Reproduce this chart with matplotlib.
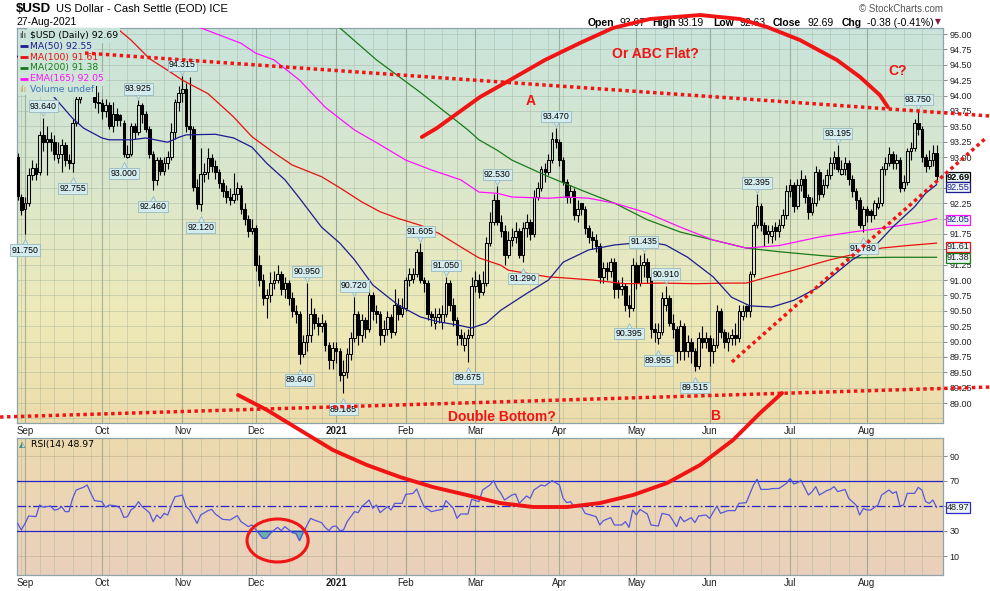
import numpy as np
import pandas as pd
import matplotlib
matplotlib.use("Agg")
import matplotlib.pyplot as plt
from matplotlib.collections import LineCollection
from matplotlib.patches import Rectangle, Ellipse
from matplotlib.colors import LinearSegmentedColormap
import matplotlib.transforms as mtransforms

plt.rcParams['font.family'] = ['Liberation Sans', 'DejaVu Sans']

# ---------------- data ----------------
holidays = ['2020-09-07', '2020-11-26', '2020-12-25', '2021-01-01', '2021-01-18',
            '2021-02-15', '2021-04-02', '2021-05-31', '2021-07-05']
start_date, end_date = '2020-08-27', '2021-08-27'

opens = [
    92.95, 93.00, 92.35, 92.15, 92.25, 92.70, 92.82, 92.75, 93.35, 93.25,
    93.30, 93.25, 92.98, 93.05, 93.20, 92.95, 92.90, 93.55, 93.95, 94.35,
    94.40, 94.60, 94.20, 93.90, 93.88, 93.75, 93.85, 93.50, 93.70, 93.68,
    93.55, 93.00, 93.05, 93.50, 93.40, 93.85, 93.70, 93.45, 93.05, 92.62,
    92.95, 92.78, 92.90, 93.00, 93.40, 93.90, 94.04, 94.10, 93.50, 93.45,
    92.52, 92.23, 92.73, 92.75, 92.98, 92.85, 92.75, 92.58, 92.45, 92.35,
    92.30, 92.40, 92.50, 92.15, 92.00, 91.80, 91.85, 91.25, 91.00, 90.70,
    90.75, 90.95, 91.00, 91.10, 90.85, 90.95, 90.70, 90.50, 90.45, 89.80,
    90.00, 90.10, 90.45, 90.30, 90.25, 90.30, 89.95, 89.70, 89.90, 89.85,
    89.45, 89.50, 89.80, 90.05, 90.45, 90.10, 90.35, 90.20, 90.75, 90.50,
    90.45, 90.10, 90.20, 90.40, 90.15, 90.60, 90.45, 90.55, 91.00, 91.02,
    91.10, 91.45, 91.00, 90.95, 90.45, 90.30, 90.40, 90.32, 90.45, 90.95,
    90.60, 90.35, 90.10, 89.95, 90.05, 90.10, 90.90, 91.00, 90.80, 90.95,
    91.60, 91.95, 92.30, 91.95, 91.80, 91.40, 91.65, 91.70, 91.80, 91.40,
    91.85, 91.95, 91.75, 92.35, 92.50, 92.80, 92.75, 92.95, 93.30, 93.25,
    92.95, 92.60, 92.35, 92.45, 92.05, 92.25, 92.15, 91.85, 91.70, 91.65,
    91.55, 91.05, 91.20, 91.15, 91.30, 90.95, 90.85, 90.90, 90.60, 90.55,
    91.25, 90.95, 91.25, 91.30, 91.05, 90.20, 90.05, 90.15, 90.60, 90.70,
    90.30, 90.20, 89.85, 90.25, 89.85, 90.00, 89.85, 89.60, 90.05, 90.00,
    90.05, 89.85, 89.95, 90.50, 90.15, 90.00, 90.05, 90.10, 90.05, 90.42,
    90.58, 90.50, 91.10, 91.90, 92.20, 91.90, 91.75, 91.72, 91.86, 91.80,
    91.90, 92.05, 92.45, 92.55, 92.20, 92.55, 92.65, 92.35, 92.10, 92.25,
    92.75, 92.40, 92.55, 92.70, 92.90, 93.00, 92.72, 92.80, 92.90, 92.65,
    92.45, 92.30, 91.90, 92.15, 92.12, 92.05, 92.18, 92.25, 92.80, 92.90,
    93.05, 92.90, 92.95, 92.50, 92.60, 93.10, 93.15, 93.55, 93.45, 93.00,
    92.85, 92.95, 93.07]

highs = [
    93.10, 93.07, 92.40, 92.35, 92.82, 92.95, 92.90, 93.42, 93.64, 93.50,
    93.40, 93.35, 93.25, 93.30, 93.25, 93.05, 93.62, 94.02, 94.45, 94.55,
    94.74, 94.65, 94.30, 94.05, 93.95, 93.95, 93.90, 93.90, 93.80, 93.70,
    93.60, 93.20, 93.55, 93.55, 93.925, 93.88, 93.75, 93.50, 93.10, 93.00,
    93.00, 93.00, 93.10, 93.55, 93.95, 94.15, 94.315, 94.20, 94.30, 93.50,
    92.65, 93.15, 92.90, 93.15, 93.05, 92.95, 92.80, 92.65, 92.55, 92.50,
    92.74, 92.60, 92.55, 92.25, 92.05, 92.00, 91.90, 91.40, 91.10, 90.85,
    91.13, 91.15, 91.25, 91.15, 91.05, 91.00, 90.80, 90.60, 90.50, 90.10,
    90.95, 90.70, 90.55, 90.40, 90.45, 90.35, 90.00, 90.00, 90.00, 89.90,
    89.70, 89.90, 90.15, 90.72, 90.50, 90.45, 90.40, 90.85, 90.80, 90.60,
    90.50, 90.35, 90.50, 90.45, 90.85, 90.70, 90.70, 91.05, 91.20, 91.20,
    91.50, 91.605, 91.05, 91.00, 90.50, 90.55, 90.55, 90.60, 91.05, 91.00,
    90.70, 90.40, 90.20, 90.15, 90.20, 91.05, 91.15, 91.10, 91.15, 91.70,
    92.10, 92.40, 92.53, 92.05, 91.90, 91.80, 91.85, 91.95, 91.85, 91.95,
    92.08, 92.00, 92.46, 92.60, 92.85, 92.90, 93.05, 93.40, 93.47, 93.30,
    93.00, 92.65, 92.55, 92.50, 92.30, 92.25, 92.20, 91.90, 91.80, 91.75,
    91.60, 91.30, 91.30, 91.35, 91.35, 91.00, 91.05, 90.95, 90.75, 91.35,
    91.30, 91.40, 91.435, 91.35, 91.10, 90.30, 90.30, 90.80, 90.91, 90.75,
    90.45, 90.25, 90.35, 90.30, 90.10, 90.05, 89.90, 90.15, 90.25, 90.15,
    90.10, 90.05, 90.60, 90.55, 90.20, 90.15, 90.20, 90.30, 90.60, 90.60,
    90.60, 91.15, 91.95, 92.395, 92.25, 91.95, 91.90, 91.90, 91.95, 92.00,
    92.15, 92.55, 92.65, 92.60, 92.65, 92.79, 92.70, 92.40, 92.35, 92.85,
    92.80, 92.65, 92.80, 93.00, 93.10, 93.195, 92.95, 93.00, 92.95, 92.70,
    92.50, 92.35, 92.20, 92.20, 92.15, 92.30, 92.35, 92.85, 93.00, 93.16,
    93.10, 93.05, 93.00, 92.70, 93.15, 93.25, 93.62, 93.75, 93.50, 93.05,
    93.11, 93.20, 93.19]

lows = [
    92.80, 92.30, 92.05, 91.75, 92.20, 92.62, 92.62, 92.70, 93.10, 92.70,
    93.10, 92.95, 92.90, 92.75, 92.85, 92.80, 92.755, 93.50, 93.88, 94.15,
    94.30, 94.20, 93.80, 93.72, 93.62, 93.65, 93.45, 93.40, 93.50, 93.50,
    93.00, 92.98, 93.02, 93.30, 93.35, 93.55, 93.40, 92.98, 92.46, 92.55,
    92.70, 92.70, 92.80, 92.95, 93.30, 93.75, 93.90, 93.40, 93.30, 92.45,
    92.15, 92.12, 92.60, 92.65, 92.75, 92.65, 92.50, 92.35, 92.25, 92.22,
    92.25, 92.30, 92.08, 91.90, 91.70, 91.75, 91.15, 90.90, 90.60, 90.38,
    90.65, 90.85, 90.95, 90.75, 90.70, 90.60, 90.40, 90.30, 89.64, 89.75,
    89.85, 90.00, 90.20, 90.10, 90.15, 89.85, 89.55, 89.55, 89.65, 89.35,
    89.165, 89.40, 89.70, 90.00, 89.95, 90.00, 90.05, 90.15, 90.35, 90.30,
    89.95, 90.00, 90.10, 90.05, 90.10, 90.35, 90.40, 90.50, 90.90, 90.95,
    91.05, 90.95, 90.80, 90.35, 90.25, 90.20, 90.30, 90.20, 90.40, 90.50,
    90.25, 89.95, 89.95, 89.85, 89.675, 90.05, 90.80, 90.70, 90.75, 90.90,
    91.55, 91.90, 91.90, 91.70, 91.24, 91.35, 91.55, 91.60, 91.35, 91.29,
    91.70, 91.65, 91.70, 92.30, 92.45, 92.60, 92.70, 92.90, 93.15, 92.85,
    92.55, 92.25, 92.25, 91.98, 91.95, 92.05, 91.75, 91.60, 91.50, 91.45,
    90.95, 90.95, 91.00, 91.05, 90.70, 90.70, 90.75, 90.50, 90.395, 90.50,
    90.85, 90.90, 91.05, 90.95, 90.05, 90.00, 89.955, 90.10, 90.50, 90.25,
    90.05, 89.65, 89.70, 89.70, 89.75, 89.65, 89.515, 89.55, 89.90, 89.90,
    89.60, 89.65, 89.90, 90.05, 89.90, 89.85, 89.95, 89.95, 90.00, 90.35,
    90.40, 90.40, 91.05, 91.85, 91.80, 91.55, 91.60, 91.60, 91.65, 91.70,
    91.85, 92.00, 92.35, 92.10, 92.15, 92.45, 92.25, 92.00, 92.05, 92.20,
    92.30, 92.35, 92.50, 92.65, 92.80, 92.75, 92.70, 92.70, 92.55, 92.35,
    92.15, 91.85, 91.78, 91.95, 91.95, 92.00, 92.15, 92.20, 92.70, 92.85,
    92.80, 92.80, 92.43, 92.45, 92.55, 92.95, 93.10, 93.35, 92.92, 92.75,
    92.80, 92.85, 92.63]

closes = [
    93.00, 92.37, 92.14, 92.25, 92.70, 92.82, 92.72, 93.35, 93.25, 93.30,
    93.25, 93.05, 93.05, 93.20, 92.95, 92.90, 93.55, 93.95, 94.35, 94.40,
    94.60, 94.30, 93.90, 93.88, 93.75, 93.85, 93.50, 93.70, 93.60, 93.60,
    93.05, 93.05, 93.50, 93.40, 93.85, 93.70, 93.45, 93.05, 92.62, 92.95,
    92.78, 92.90, 93.00, 93.40, 93.90, 94.04, 94.10, 93.50, 93.45, 92.52,
    92.23, 92.73, 92.75, 92.98, 92.85, 92.75, 92.58, 92.45, 92.35, 92.30,
    92.40, 92.50, 92.15, 92.00, 91.80, 91.85, 91.25, 91.00, 90.70, 90.75,
    90.95, 91.00, 91.10, 90.85, 90.95, 90.70, 90.50, 90.45, 89.80, 90.00,
    90.10, 90.45, 90.30, 90.25, 90.30, 89.95, 89.70, 89.90, 89.85, 89.45,
    89.50, 89.80, 90.05, 90.45, 90.10, 90.35, 90.20, 90.75, 90.50, 90.45,
    90.10, 90.20, 90.40, 90.15, 90.60, 90.45, 90.55, 91.00, 91.10, 91.10,
    91.45, 91.00, 90.95, 90.45, 90.40, 90.40, 90.45, 90.45, 90.95, 90.60,
    90.35, 90.10, 90.05, 90.05, 90.10, 90.90, 91.00, 90.80, 90.95, 91.60,
    91.95, 92.30, 91.95, 91.80, 91.40, 91.65, 91.70, 91.80, 91.40, 91.85,
    91.95, 91.75, 92.35, 92.50, 92.80, 92.75, 92.95, 93.30, 93.25, 92.95,
    92.60, 92.35, 92.45, 92.05, 92.15, 92.15, 91.85, 91.70, 91.65, 91.55,
    91.05, 91.20, 91.15, 91.30, 90.85, 90.85, 90.90, 90.60, 90.55, 91.25,
    90.95, 91.25, 91.30, 91.05, 90.20, 90.15, 90.15, 90.70, 90.70, 90.30,
    90.20, 89.85, 90.25, 89.85, 90.00, 89.85, 89.60, 90.05, 90.00, 90.05,
    89.85, 89.95, 90.50, 90.15, 90.00, 90.05, 90.10, 90.05, 90.50, 90.50,
    90.50, 91.10, 91.90, 92.20, 91.90, 91.75, 91.80, 91.80, 91.80, 91.90,
    92.05, 92.45, 92.55, 92.20, 92.55, 92.65, 92.35, 92.10, 92.25, 92.75,
    92.40, 92.55, 92.70, 92.90, 93.00, 92.80, 92.80, 92.90, 92.65, 92.45,
    92.30, 91.90, 92.15, 92.05, 92.05, 92.25, 92.25, 92.80, 92.90, 93.05,
    92.90, 92.95, 92.50, 92.60, 93.10, 93.15, 93.55, 93.45, 93.00, 92.85,
    92.95, 93.07, 92.69]

ma50_idx = [0, 5, 10, 16, 19, 24, 26, 32, 36, 42, 45, 47, 55, 60, 65, 69, 74, 78, 84, 89,
            93, 98, 105, 111, 116, 121, 125, 129, 133, 140, 146, 150, 157, 164, 173, 178,
            184, 191, 196, 201, 207, 213, 220, 229, 235, 240, 246, 249, 252]
ma50_val = [94.70, 94.35, 94.04, 93.63, 93.47, 93.31, 93.28, 93.28, 93.31, 93.24, 93.32,
            93.36, 93.37, 93.31, 93.16, 92.90, 92.63, 92.33, 91.86, 91.60, 91.33, 90.92,
            90.59, 90.40, 90.32, 90.27, 90.22, 90.30, 90.51, 90.78, 91.00, 91.29, 91.49,
            91.57, 91.62, 91.57, 91.37, 91.05, 90.72, 90.58, 90.56, 90.67, 90.89, 91.33,
            91.54, 91.86, 92.19, 92.41, 92.55]

ma100_idx = [20, 32, 37, 42, 46, 53, 58, 60, 65, 71, 76, 84, 89, 95, 100, 105, 111, 116,
             122, 127, 133, 135, 146, 149, 158, 167, 177, 186, 195, 200, 206, 213, 220,
             223, 231, 237, 244, 252]
ma100_val = [95.50, 94.90, 94.60, 94.41, 94.25, 94.03, 93.76, 93.65, 93.33, 93.07, 92.87,
             92.68, 92.50, 92.27, 92.11, 92.00, 91.89, 91.76, 91.54, 91.36, 91.24, 91.16,
             91.05, 91.04, 91.00, 90.94, 90.95, 90.94, 90.95, 90.95, 91.05, 91.16, 91.28,
             91.33, 91.44, 91.52, 91.56, 91.60]

ma200_idx = [80, 89, 99, 111, 124, 127, 132, 136, 146, 155, 164, 173, 182, 191, 200, 209,
             220, 229, 240, 252]
ma200_val = [95.35, 95.10, 94.58, 94.05, 93.44, 93.28, 93.11, 92.95, 92.68, 92.46, 92.25,
             91.98, 91.78, 91.65, 91.52, 91.46, 91.40, 91.36, 91.37, 91.37]

ema165_idx = [40, 51, 62, 66, 71, 78, 85, 93, 100, 107, 114, 122, 127, 132, 136, 146, 151,
              157, 164, 173, 182, 191, 200, 209, 220, 229, 239, 248, 252]
ema165_val = [95.40, 95.10, 94.85, 94.69, 94.58, 94.25, 93.81, 93.44, 93.20, 92.95, 92.79,
              92.63, 92.43, 92.41, 92.35, 92.33, 92.35, 92.33, 92.25, 92.09, 91.86, 91.65,
              91.52, 91.56, 91.70, 91.78, 91.86, 91.94, 92.00]

rsi_idx = [1, 2, 3, 4, 6, 7, 8, 10, 11, 12, 13, 14, 15, 16, 17, 19, 20, 21, 22, 24, 25, 26,
           28, 29, 30, 31, 32, 33, 34, 35, 37, 38, 39, 40, 41, 42, 43, 44, 45, 46, 47, 48,
           50, 51, 53, 54, 55, 57, 59, 61, 62, 64, 65, 66, 68, 69, 70, 72, 73, 74, 76, 77,
           78, 79, 81, 82, 84, 85, 86, 87, 88, 89, 90, 91, 93, 94, 95, 97, 98, 99, 100,
           102, 103, 104, 106, 107, 109, 110, 111, 112, 114, 116, 117, 118, 120, 121, 122,
           124, 125, 127, 128, 130, 131, 132, 133, 134, 136, 137, 138, 140, 141, 142, 144,
           145, 147, 149, 150, 151, 152, 153, 155, 156, 159, 160, 161, 163, 164, 166, 167,
           168, 169, 170, 171, 173, 174, 176, 177, 179, 180, 181, 182, 183, 185, 186, 187,
           189, 190, 192, 193, 195, 197, 198, 200, 202, 203, 204, 206, 207, 209, 211, 212,
           213, 214, 215, 217, 218, 219, 220, 222, 223, 224, 225, 227, 228, 230, 231, 232,
           233, 234, 236, 237, 239, 240, 241, 242, 243, 244, 246, 247, 248, 249, 250, 251,
           252]
rsi_val = [36.1, 30.8, 36.0, 42.0, 41.5, 50.8, 49.0, 50.0, 46.8, 47.3, 49.5, 45.5, 45.5,
           56.0, 62.8, 65.0, 66.8, 60.1, 54.3, 53.5, 48.9, 50.8, 50.0, 48.1, 40.9, 41.5,
           47.0, 49.0, 53.5, 49.5, 44.7, 37.5, 42.8, 40.1, 44.1, 42.8, 50.8, 57.5, 58.0,
           58.8, 49.5, 46.8, 36.1, 42.8, 46.3, 47.3, 43.6, 39.3, 38.8, 42.3, 37.5, 33.5,
           34.8, 31.3, 24.1, 24.1, 28.1, 32.9, 30.3, 33.5, 28.7, 28.1, 22.3, 28.7, 40.1,
           38.8, 36.7, 32.9, 30.3, 33.5, 34.0, 30.3, 30.8, 37.5, 45.5, 44.7, 49.5, 54.8,
           48.1, 50.8, 44.7, 49.5, 46.8, 52.1, 52.1, 59.3, 60.1, 63.6, 56.1, 49.5, 45.5,
           46.8, 47.3, 54.3, 48.1, 40.1, 43.6, 43.6, 55.3, 53.5, 62.8, 66.8, 70.3, 64.1,
           60.1, 54.8, 58.8, 59.6, 52.1, 58.0, 56.1, 62.8, 66.8, 66.0, 70.3, 66.8, 56.1,
           52.7, 53.5, 49.5, 49.5, 44.1, 41.5, 34.8, 38.3, 40.7, 34.8, 34.8, 37.5, 32.9,
           46.8, 42.8, 47.3, 43.6, 34.8, 34.0, 44.1, 42.8, 38.3, 33.5, 41.5, 37.5, 40.7,
           36.7, 42.0, 42.8, 40.1, 50.0, 44.1, 46.3, 46.3, 52.1, 52.7, 66.8, 71.3, 63.3,
           63.3, 63.9, 64.1, 68.1, 71.9, 67.6, 68.7, 70.3, 58.8, 61.5, 65.5, 58.8, 62.3,
           63.3, 65.5, 61.5, 63.3, 56.1, 50.8, 42.8, 48.1, 46.8, 46.8, 50.8, 58.8, 62.8,
           60.1, 61.5, 50.0, 50.8, 60.1, 60.1, 64.9, 62.8, 53.5, 52.1, 54.8, 48.97]

month_labels = ['Sep', 'Oct', 'Nov', 'Dec', '2021', 'Feb', 'Mar', 'Apr', 'May', 'Jun', 'Jul', 'Aug']
price_ticks = [89.00, 89.25, 89.50, 89.75, 90.00, 90.25, 90.50, 90.75, 91.00, 91.25, 91.50,
               91.75, 92.00, 92.25, 92.50, 92.75, 93.00, 93.25, 93.50, 93.75, 94.00, 94.25,
               94.50, 94.75, 95.00]
hidden_price_ticks = [91.50, 92.00, 92.50, 92.75]   # covered by the value tags in the original
rsi_ticks = [10, 30, 50, 70, 90]
hidden_rsi_ticks = [50]
high_label_idx = [8, 34, 46, 80, 93, 111, 118, 132, 148, 172, 178, 203, 225, 247]
low_label_idx = [3, 16, 30, 38, 51, 78, 90, 124, 139, 168, 176, 186, 232]

last_values = {'close': 92.69, 'ma50': 92.55, 'ma100': 91.61, 'ma200': 91.38, 'ema165': 92.05,
               'rsi': 48.97}
header_values = {'Open': '93.07', 'High': '93.19', 'Low': '92.63', 'Close': '92.69',
                 'Chg': '-0.38 (-0.41%)'}

# annotation shapes (hand drawn on the original), in (bar index, price) coordinates
top_arc_x = [111.4, 115.5, 127.3, 135.5, 145.0, 154.6, 163.6, 173.7, 187.4, 198.3, 205.7,
             214.7, 224.8, 231.1, 236.5, 238.7]
top_arc_y = [93.325, 93.47, 93.976, 94.252, 94.577, 94.854, 95.098, 95.244, 95.309, 95.244,
             95.114, 94.902, 94.577, 94.301, 94.008, 93.813]
bot_arc_x = [61.2, 69.1, 78.1, 87.1, 96.4, 105.4, 114.4, 123.7, 132.7, 141.8, 151.1, 160.1,
             169.1, 178.4, 187.4, 196.4, 203.8, 209.8]
bot_arc_y = [89.13, 88.886, 88.561, 88.236, 87.992, 87.797, 87.634, 87.504, 87.374, 87.309,
             87.309, 87.374, 87.504, 87.699, 87.992, 88.398, 88.837, 89.163]
dot_lines = [((19.4, 94.691), (266.6, 93.667)),
             ((-3.8, 88.772), (266.6, 89.26)),
             ((196.1, 89.667), (265.8, 93.325))]

# ---------------- figure ----------------
W, H = 990, 591
fig = plt.figure(figsize=(W / 100, H / 100), dpi=100)
fig.patch.set_facecolor('white')


def fx(px):
    return px / W


def fy(py):
    return 1 - py / H


ax = fig.add_axes([fx(17), fy(423), fx(943) - fx(17), fy(28) - fy(423)])
ax2 = fig.add_axes([fx(17), fy(575), fx(943) - fx(17), fy(438) - fy(575)])
ax.set_zorder(5)

dates = pd.bdate_range(start_date, end_date)
dates = dates[~dates.isin(pd.to_datetime(holidays))]
n = len(closes)
xs = np.arange(n)

month_idx = [i for i in range(1, n) if dates[i].month != dates[i - 1].month]
week_idx = [i for i in range(1, n) if dates[i].weekday() < dates[i - 1].weekday()]

main_cmap = LinearSegmentedColormap.from_list(
    'main', [(0.0, '#c8e4dc'), (0.40, '#dbe7cc'), (0.72, '#eeeab9'), (1.0, '#eddcab')])
rsi_cmap = LinearSegmentedColormap.from_list('rsi', [(0.0, '#eddaae'), (1.0, '#ead0bc')])
grad = np.linspace(0, 1, 256).reshape(-1, 1)
for a, cm in ((ax, main_cmap), (ax2, rsi_cmap)):
    a.imshow(grad, cmap=cm, extent=[0, 1, 0, 1], transform=a.transAxes, aspect='auto',
             origin='upper', zorder=0, interpolation='bilinear')

XL = (0.82, 253.76)
ax.set_xlim(*XL)
ax.set_ylim(88.675, 95.098)
ax2.set_xlim(*XL)
ax2.set_ylim(-5.2, 104.4)

# grid
for a in (ax, ax2):
    for i in week_idx:
        a.axvline(i, color='#9fb09c', lw=0.6, alpha=0.45, zorder=1)
    for i in month_idx:
        a.axvline(i, color='#8d9f8b', lw=0.8, alpha=0.75, zorder=1)
for v in np.arange(88.75, 95.01, 0.25):
    ax.axhline(v, color='#9fb09c', lw=0.6, alpha=0.5, zorder=1)
for v in (10, 90):
    ax2.axhline(v, color='#b8a888', lw=0.6, alpha=0.6, zorder=1)

# candlesticks
o = np.array(opens); h = np.array(highs); l = np.array(lows); c = np.array(closes)
btop = np.maximum(o, c); bbot = np.minimum(o, c)
segs = []
for i in xs:
    segs.append([(i, h[i]), (i, btop[i])])
    segs.append([(i, bbot[i]), (i, l[i])])
ax.add_collection(LineCollection(segs, colors='black', linewidths=0.8, zorder=3))
bw = 0.72
for i in xs:
    if abs(c[i] - o[i]) < 0.004:
        ax.plot([i - bw / 2, i + bw / 2], [c[i], c[i]], color='black', lw=0.9, zorder=3)
    elif c[i] > o[i]:
        ax.add_patch(Rectangle((i - bw / 2, o[i]), bw, c[i] - o[i], fc='none', ec='black',
                               lw=0.75, zorder=3))
    else:
        ax.add_patch(Rectangle((i - bw / 2, c[i]), bw, o[i] - c[i], fc='black', ec='black',
                               lw=0.75, zorder=3))

# moving averages
ax.plot(ma200_idx, ma200_val, color='#1a7a1a', lw=0.9, zorder=4)
ax.plot(ma100_idx, ma100_val, color='#e81010', lw=0.9, zorder=4)
ax.plot(ema165_idx, ema165_val, color='#ff10ff', lw=0.9, zorder=4)
ax.plot(ma50_idx, ma50_val, color='#1c1c90', lw=0.9, zorder=4)

# pivot labels
lab_fc, lab_ec = '#d5ecee', '#98b9bf'
off = mtransforms.offset_copy
for i in high_label_idx:
    v = highs[i]
    ax.plot([i], [v], marker='v', ms=4, mfc=lab_fc, mec=lab_ec, mew=0.6, zorder=7,
            transform=off(ax.transData, fig=fig, y=3.0, units='points'), clip_on=False)
    ax.annotate('%.3f' % v, xy=(i, v), xytext=(0, 5.0), textcoords='offset points',
                ha='center', va='bottom', fontsize=6.3, color='black', zorder=8,
                annotation_clip=False,
                bbox=dict(boxstyle='square,pad=0.15', fc=lab_fc, ec=lab_ec, lw=0.6))
for i in low_label_idx:
    v = lows[i]
    ax.plot([i], [v], marker='^', ms=4, mfc=lab_fc, mec=lab_ec, mew=0.6, zorder=7,
            transform=off(ax.transData, fig=fig, y=-6.0, units='points'), clip_on=False)
    ax.annotate('%.3f' % v, xy=(i, v), xytext=(0, -8.5), textcoords='offset points',
                ha='center', va='top', fontsize=6.3, color='black', zorder=8,
                annotation_clip=False,
                bbox=dict(boxstyle='square,pad=0.15', fc=lab_fc, ec=lab_ec, lw=0.6))

# axes styling
for a in (ax, ax2):
    for s in a.spines.values():
        s.set_color('#8ea4aa'); s.set_linewidth(0.9)
    a.yaxis.tick_right()
    a.set_xticks(month_idx)
    a.set_xticklabels(month_labels)
    a.tick_params(axis='x', length=0, pad=2.2, labelsize=7, colors='#222222')
    a.tick_params(axis='y', length=3, width=0.6, color='#777777', pad=1.5, labelsize=6.5,
                  labelcolor='#222222')
    for t in a.get_xticklabels():
        if t.get_text() == '2021':
            t.set_fontweight('bold')
ax.set_yticks(price_ticks)
ax.set_yticklabels(['' if v in hidden_price_ticks else '%.2f' % v for v in price_ticks])
ax2.set_yticks(rsi_ticks)
ax2.set_yticklabels(['' if v in hidden_rsi_ticks else '%d' % v for v in rsi_ticks])

# right-side value tags
bt = mtransforms.blended_transform_factory(ax.transAxes, ax.transData)
tags = [(92.675, '%.2f' % last_values['close'], 'black', 'black', 'bold'),
        (92.51, '%.2f' % last_values['ma50'], '#1c1c90', '#1c1c90', 'normal'),
        (91.98, '%.2f' % last_values['ema165'], '#1c1c90', '#ff10ff', 'normal'),
        (91.54, '%.2f' % last_values['ma100'], '#222222', '#e81010', 'normal'),
        (91.36, '%.2f' % last_values['ma200'], '#222222', '#1a7a1a', 'normal')]
for yv, txt, tc, ec, fw in tags:
    ax.text(1.0037, yv, txt, transform=bt, ha='left', va='center', fontsize=6.6, color=tc,
            fontweight=fw, zorder=12, clip_on=False,
            bbox=dict(boxstyle='square,pad=0.08', fc='#eaf4f4', ec=ec, lw=0.9))
bt2 = mtransforms.blended_transform_factory(ax2.transAxes, ax2.transData)
ax2.text(1.0037, last_values['rsi'], '%.2f' % last_values['rsi'], transform=bt2, ha='left',
         va='center', fontsize=6.6, color='#222222', zorder=12, clip_on=False,
         bbox=dict(boxstyle='square,pad=0.08', fc='#eaf4f4', ec='#2a2ad0', lw=0.9))

# RSI panel
rx = np.array(rsi_idx, dtype=float); ry = np.array(rsi_val)
ax2.fill_between(rx, ry, 30, where=ry < 30, interpolate=True, color='#6fb0ab', zorder=2)
ax2.fill_between(rx, ry, 70, where=ry > 70, interpolate=True, color='#6fb0ab', zorder=2)
ax2.axhline(70, color='#2424c8', lw=0.9, zorder=3)
ax2.axhline(30, color='#2424c8', lw=0.9, zorder=3)
ax2.axhline(50, color='#2424c8', lw=0.9, ls=(0, (7, 2, 1.5, 2)), zorder=3)
ax2.plot(rx, ry, color='#5656dc', lw=0.9, zorder=4)


# legends (opaque strips like the original)
def gcol(py):
    return main_cmap((py - 28) / 395.0)


leg = [(35.5, '$USD (Daily) %.2f' % last_values['close'], 'black', None),
       (46.3, 'MA(50) %.2f' % last_values['ma50'], '#1c1c90', '#1c1c90'),
       (57.1, 'MA(100) %.2f' % last_values['ma100'], '#e81010', '#e81010'),
       (67.9, 'MA(200) %.2f' % last_values['ma200'], '#1a7a1a', '#1a7a1a'),
       (78.7, 'EMA(165) %.2f' % last_values['ema165'], '#ff10ff', '#ff10ff'),
       (89.5, 'Volume undef', '#3f78b8', None)]
for py, txt, col, lc in leg:
    ax.text((29.5 - 17) / 926, 1 - (py - 28) / 395, txt,
            transform=ax.transAxes, fontsize=6.7, family='DejaVu Sans', color=col,
            va='center', ha='left', zorder=11,
            bbox=dict(boxstyle='square,pad=0.28', fc=gcol(py), ec='none'))
    ax.add_patch(Rectangle(((18 - 17) / 926, 1 - (py + 5.4 - 28) / 395), 11 / 926, 10.8 / 395,
                           transform=ax.transAxes, fc=gcol(py), ec='none', zorder=10))
    if lc is not None:
        ax.plot([(19.5 - 17) / 926, (28 - 17) / 926], [1 - (py - 28) / 395] * 2,
                transform=ax.transAxes, color=lc, lw=2.0, zorder=11, solid_capstyle='butt')
# icons
ax.text((19 - 17) / 926, 1 - (35.5 - 28) / 395, 'ılı', transform=ax.transAxes, fontsize=6,
        family='DejaVu Sans', color='#333333', va='center', ha='left', zorder=11)
ax.text((19 - 17) / 926, 1 - (89.5 - 28) / 395, 'ılı', transform=ax.transAxes, fontsize=6,
        family='DejaVu Sans', color='#c8a860', va='center', ha='left', zorder=11)
ax2.text((31 - 17) / 926, 1 - (444 - 438) / 137, 'RSI(14) %.2f' % last_values['rsi'],
         transform=ax2.transAxes, fontsize=6.7, family='DejaVu Sans', color='black',
         va='center', ha='left', zorder=11)
ax2.text((19 - 17) / 926, 1 - (444 - 438) / 137, '◭', transform=ax2.transAxes, fontsize=6,
         family='DejaVu Sans', color='#3c8c8c', va='center', ha='left', zorder=11)

# red annotations
RED = '#f01414'
ax.plot(top_arc_x, top_arc_y, color=RED, lw=2.8, clip_on=False, zorder=13,
        solid_capstyle='round', solid_joinstyle='round')
ax.plot(bot_arc_x, bot_arc_y, color=RED, lw=2.8, clip_on=False, zorder=13,
        solid_capstyle='round', solid_joinstyle='round')
for (x0, y0), (x1, y1) in dot_lines:
    ax.plot([x0, x1], [y0, y1], color=RED, lw=2.5, ls=(0, (1.0, 1.0)), dash_capstyle='butt',
            clip_on=False, zorder=13)
tkw = dict(color=RED, fontweight='bold', ha='center', va='center', zorder=14, clip_on=False)
ax.text(175.1, 94.675, 'Or ABC Flat?', fontsize=10, **tkw)
ax.text(141.2, 93.91, 'A', fontsize=10, **tkw)
ax.text(241.5, 94.398, 'C?', fontsize=10, **tkw)
ax.text(133.3, 88.772, 'Double Bottom?', fontsize=10, **tkw)
ax.text(191.5, 88.789, 'B', fontsize=10, **tkw)
ax2.add_patch(Ellipse((72.0, 22.4), 16.7, 34.4, fill=False, ec=RED, lw=2.2, zorder=9,
                      clip_on=False))

# header
fig.text(fx(16), fy(9), '$USD', fontsize=9.5, fontweight='bold', va='center', ha='left')
fig.text(fx(56), fy(9), 'US Dollar - Cash Settle (EOD) ICE', fontsize=8, va='center', ha='left')
fig.text(fx(16), fy(22), '27-Aug-2021', fontsize=7.5, va='center', ha='left')
fig.text(fx(943), fy(9), '© StockCharts.com', fontsize=7, color='#555555', va='center',
         ha='right')
hx = [(588, 'Open', 'bold'), (620, header_values['Open'], 'normal'),
      (652, 'High', 'bold'), (677, header_values['High'], 'normal'),
      (713, 'Low', 'bold'), (740, header_values['Low'], 'normal'),
      (773, 'Close', 'bold'), (808, header_values['Close'], 'normal'),
      (842, 'Chg', 'bold'), (867, header_values['Chg'], 'normal')]
for px, t, fw in hx:
    fig.text(fx(px), fy(22.5), t, fontsize=7.5, fontweight=fw, va='center', ha='left')
fig.text(fx(935), fy(22), '▼', fontsize=5.5, color='#8b1a3a', va='center', ha='left',
         family='DejaVu Sans')

fig.savefig('out.png', dpi=100)
